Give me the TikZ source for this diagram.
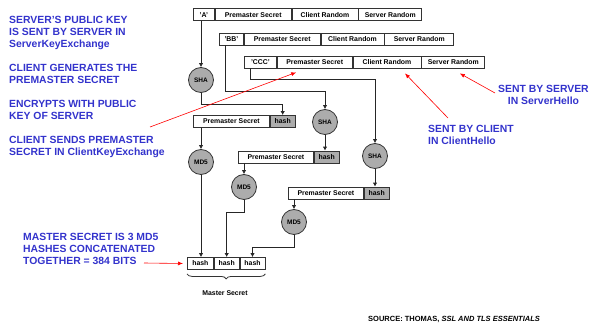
\documentclass[tikz,border=0pt]{standalone}
\usepackage{fontspec}
\setmainfont{Liberation Sans}
\usetikzlibrary{arrows.meta,decorations.pathreplacing}
\definecolor{bleu}{RGB}{51,51,204}
\definecolor{gris}{RGB}{172,172,172}
\begin{document}
\begin{tikzpicture}[x=1pt,y=-1pt]
\tikzstyle{boite}=[draw=black!80, line width=0.8pt, minimum height=12pt, inner sep=0pt, anchor=west, font=\fontsize{6.9}{7}\selectfont\bfseries]
\tikzstyle{hachage}=[boite, fill=gris]
\tikzstyle{rond}=[circle, draw=black!80, line width=0.8pt, fill=gris, minimum size=25pt, inner sep=0pt, font=\fontsize{6.5}{7}\selectfont\bfseries]
\tikzstyle{fleche}=[draw=black!85, line width=0.8pt, -{Latex[length=4pt,width=4.5pt]}]
\tikzstyle{rouge}=[draw=red, line width=0.6pt, -{Latex[length=5pt,width=4pt]}]
\tikzstyle{texte}=[text=bleu, font=\fontsize{10.4}{12}\selectfont\bfseries, inner sep=0pt, anchor=north west, align=left]
\tikzstyle{accolade}=[draw=black!80, line width=0.8pt, decorate, decoration={brace, mirror, amplitude=5pt}]
\useasboundingbox (0,0) rectangle (590,324);
% les trois lignes de depart
\node[boite, minimum width=21pt] (a1) at (193,14.8) {'A'};
\node[boite, minimum width=76pt] (a2) at (a1.east) {Premaster Secret};
\node[boite, minimum width=66pt] (a3) at (a2.east) {Client Random};
\node[boite, minimum width=63pt] (a4) at (a3.east) {Server Random};
\node[boite, minimum width=24pt] (b1) at (219,39) {'BB'};
\node[boite, minimum width=76pt] (b2) at (b1.east) {Premaster Secret};
\node[boite, minimum width=63pt] (b3) at (b2.east) {Client Random};
\node[boite, minimum width=69pt] (b4) at (b3.east) {Server Random};
\node[boite, minimum width=32pt] (c1) at (244,62) {'CCC'};
\node[boite, minimum width=75pt] (c2) at (c1.east) {Premaster Secret};
\node[boite, minimum width=68pt] (c3) at (c2.east) {Client Random};
\node[boite, minimum width=63pt] (c4) at (c3.east) {Server Random};
% hachages
\node[rond] (sha1) at (201,80) {SHA};
\node[rond] (sha2) at (325,122) {SHA};
\node[rond] (sha3) at (375,156) {SHA};
\node[boite, minimum width=76pt] (p1) at (193,121.5) {Premaster Secret};
\node[hachage, minimum width=25pt] (h1) at (p1.east) {hash};
\node[boite, minimum width=75pt] (p2) at (238,157) {Premaster Secret};
\node[hachage, minimum width=25pt] (h2) at (p2.east) {hash};
\node[boite, minimum width=75pt] (p3) at (288,193) {Premaster Secret};
\node[hachage, minimum width=25pt] (h3) at (p3.east) {hash};
\node[rond] (md1) at (201,162) {MD5};
\node[rond] (md2) at (244,187) {MD5};
\node[rond] (md3) at (294,222) {MD5};
% master secret
\node[boite, minimum width=26pt] (m1) at (187,263.5) {hash};
\node[boite, minimum width=25pt] (m2) at (m1.east) {hash};
\node[boite, minimum width=25pt] (m3) at (m2.east) {hash};
\draw[accolade] ([yshift=-4pt]m1.south west) -- ([yshift=-4pt]m3.south east);
\node[font=\fontsize{6.9}{7}\selectfont\bfseries, inner sep=0pt] (ms) at (225,293) {Master Secret};
% connexions
\draw[fleche] (sha1.north |- a1.south) -- (sha1.north);
\draw[fleche] (sha1.south) -- ++(0,11) -| (h1.north);
\draw[fleche] (md1.north |- p1.south) -- (md1.north);
\draw[fleche] (md1.south) -- (md1.south |- m1.north);
\draw[fleche] ([xshift=-6pt]b1.south) -- ++(0,46) -| (sha2.north);
\draw[fleche] (sha2.south) -- (sha2.south |- h2.north);
\draw[fleche] (md2.north |- p2.south) -- (md2.north);
\draw[fleche] (md2.south) -- ++(0,12) -| (m2.north);
\draw[fleche] ([xshift=-10pt]c1.south) -- ++(0,11) -| (sha3.north);
\draw[fleche] (sha3.south) -- (sha3.south |- h3.north);
\draw[fleche] (md3.north |- p3.south) -- (md3.north);
\draw[fleche] (md3.south) -- ++(0,12) -| (m3.north);
% textes
\node[texte] (t1) at (9,16) {SERVER’S PUBLIC KEY\\IS SENT BY SERVER IN\\ServerKeyExchange};
\node[texte] (t2) at (9,64) {CLIENT GENERATES THE\\PREMASTER SECRET};
\node[texte] (t3) at (9,100) {ENCRYPTS WITH PUBLIC\\KEY OF SERVER};
\node[texte] (t4) at (9,136) {CLIENT SENDS PREMASTER\\SECRET IN ClientKeyExchange};
\node[texte] (t5) at (23,233.3) {MASTER SECRET IS 3 MD5\\HASHES CONCATENATED\\TOGETHER = 384 BITS};
\node[texte] (t6) at (428,125) {SENT BY CLIENT\\IN ClientHello};
\node[texte, align=center] (t7) at (498,85) {SENT BY SERVER\\IN ServerHello};
\node[font=\fontsize{7.5}{9}\selectfont\bfseries, inner sep=0pt, anchor=north west] (src) at (368,316.5) {SOURCE: THOMAS, \textit{SSL AND TLS ESSENTIALS}};
% fleches rouges
\coordinate (r1) at (150,127);
\coordinate (r2) at (448,118);
\coordinate (r3) at (495,93);
\coordinate (r4) at (144,263);
\draw[rouge] (r1) -- ([xshift=-18.5pt,yshift=-4pt]c2.south);
\draw[rouge] (r2) -- ([xshift=18pt,yshift=-5pt]c3.south);
\draw[rouge] (r3) -- ([xshift=6.5pt,yshift=-5pt]c4.south);
\draw[rouge] (r4) -- ([xshift=-4pt]m1.west);
\end{tikzpicture}
\end{document}
